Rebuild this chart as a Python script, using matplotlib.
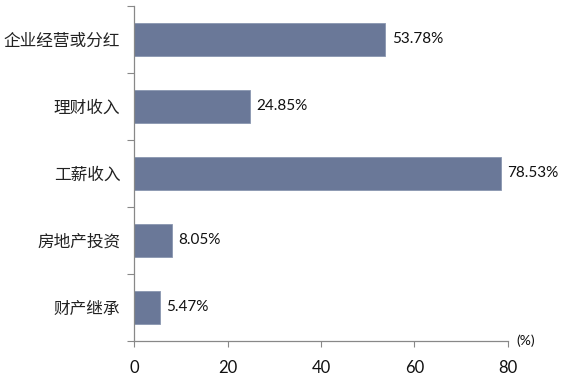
import matplotlib
matplotlib.use("Agg")
import matplotlib.pyplot as plt
from matplotlib.ticker import FixedLocator
import numpy as np

categories = ["企业经营或分红", "理财收入", "工薪收入", "房地产投资", "财产继承"]
values = [53.78, 24.85, 78.53, 8.05, 5.47]
labels = ["53.78%", "24.85%", "78.53%", "8.05%", "5.47%"]
xticks = [0, 20, 40, 60, 80]

fig = plt.figure(figsize=(5.61, 3.79), dpi=100)
ax = fig.add_axes([0.2389, 0.1003, 0.6666, 0.8839])

y = np.arange(len(categories))
ax.barh(y, values, height=0.5, color="#6a7898", edgecolor="#8a96b0", linewidth=0.6)
ax.set_ylim(len(categories) - 0.5, -0.5)
ax.set_xlim(0, 80)

ax.set_yticks(y)
ax.set_yticklabels(categories, family=["Noto Sans CJK SC", "DejaVu Sans"], fontsize=12, color="#222222")
ax.yaxis.set_minor_locator(FixedLocator(np.arange(-0.5, len(categories), 1.0)))
ax.tick_params(axis="y", which="major", length=0, pad=10)
ax.tick_params(axis="y", which="minor", length=5, color="#888888", width=0.8)

ax.set_xticks(xticks)
ax.set_xticklabels([str(t) for t in xticks], family="Lato", fontsize=12, color="#111111")
ax.tick_params(axis="x", length=4, color="#888888", width=0.8, pad=10)

for s in ["top", "right"]:
    ax.spines[s].set_visible(False)
for s in ["left", "bottom"]:
    ax.spines[s].set_color("#888888")
    ax.spines[s].set_linewidth(0.9)

for yi, v, lab in zip(y, values, labels):
    ax.annotate(lab, xy=(v, yi), xytext=(4.5, 0), textcoords="offset points",
                va="center", ha="left", family="Lato", fontsize=11, color="#111111")

ax.annotate("(%)", xy=(80, len(categories) - 0.5), xytext=(6, 0), textcoords="offset points",
            va="center", ha="left", family="Lato", fontsize=10, color="#111111",
            annotation_clip=False)

fig.savefig("out.png", dpi=100)
